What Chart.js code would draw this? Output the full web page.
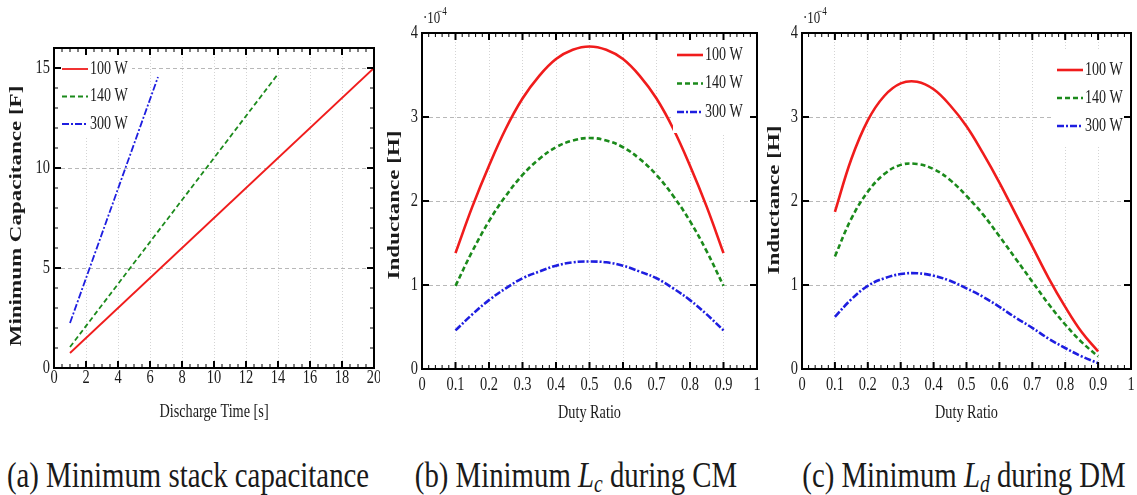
<!DOCTYPE html>
<html>
<head>
<meta charset="utf-8">
<script src="https://cdn.jsdelivr.net/npm/chart.js@4.4.1/dist/chart.umd.min.js"></script>
<style>
  body { margin: 0; width: 1137px; height: 495px; background: #fff; position: relative; overflow: hidden; }
  .panel { position: absolute; top: 0; height: 430px; }
  .caption {
    position: absolute; top: 457px; line-height: 36px; white-space: nowrap;
    font-family: 'Liberation Serif', 'DejaVu Serif', serif; font-size: 36px; color: #1a1a1a;
    transform: translateX(-50%) scaleX(0.8);
  }
  .caption sub { font-size: 0.68em; vertical-align: -0.22em; font-style: italic; }
</style>
</head>
<body>
<div class="panel" style="left:0;width:380px"><canvas id="capChart"></canvas></div>
<div class="panel" style="left:380px;width:385px"><canvas id="cmChart"></canvas></div>
<div class="panel" style="left:760px;width:377px"><canvas id="dmChart"></canvas></div>

<div class="caption" style="left:188px">(a) Minimum stack capacitance</div>
<div class="caption" style="left:576px">(b) Minimum <i>L</i><sub>c</sub> during CM</div>
<div class="caption" style="left:964px">(c) Minimum <i>L</i><sub>d</sub> during DM</div>

<script>
const seriesLabels = ['100 W', '140 W', '300 W'];

// (a) capacitance [F] against discharge time [s]
const time100 = [1, 20];
const cap100 = [0.75, 15.0];
const time140 = [1, 14];
const cap140 = [1.05, 14.7];
const time300 = [1, 6.5];
const cap300 = [2.25, 14.55];

const timeTicks = [0, 2, 4, 6, 8, 10, 12, 14, 16, 18, 20];
const timeTickLabels = ['0', '2', '4', '6', '8', '10', '12', '14', '16', '18', '20'];
const capTicks = [0, 5, 10, 15];
const capTickLabels = ['0', '5', '10', '15'];

// (b), (c) inductance in units of 1e-4 H against duty ratio
const dutyRatio = [0.1, 0.15, 0.2, 0.25, 0.3, 0.35, 0.4, 0.45, 0.5, 0.55, 0.6, 0.65, 0.7, 0.75, 0.8, 0.85, 0.9];

const lc100 = [1.38, 1.93, 2.42, 2.86, 3.22, 3.49, 3.69, 3.80, 3.84, 3.80, 3.69, 3.49, 3.22, 2.86, 2.42, 1.93, 1.38];
const lc140 = [0.99, 1.40, 1.76, 2.06, 2.31, 2.50, 2.64, 2.72, 2.75, 2.72, 2.64, 2.50, 2.31, 2.06, 1.76, 1.40, 0.99];
const lc300 = [0.46, 0.65, 0.82, 0.96, 1.08, 1.16, 1.23, 1.27, 1.28, 1.27, 1.23, 1.16, 1.08, 0.96, 0.82, 0.65, 0.46];

const ld100 = [1.87, 2.50, 2.96, 3.25, 3.40, 3.42, 3.33, 3.14, 2.89, 2.57, 2.22, 1.84, 1.46, 1.08, 0.74, 0.44, 0.21];
const ld140 = [1.34, 1.79, 2.11, 2.32, 2.43, 2.44, 2.38, 2.25, 2.06, 1.84, 1.58, 1.31, 1.04, 0.77, 0.53, 0.32, 0.15];
const ld300 = [0.62, 0.83, 0.99, 1.08, 1.13, 1.14, 1.11, 1.05, 0.96, 0.86, 0.74, 0.61, 0.49, 0.36, 0.25, 0.15, 0.07];

const dutyTicks = [0, 0.1, 0.2, 0.3, 0.4, 0.5, 0.6, 0.7, 0.8, 0.9, 1];
const dutyTickLabels = ['0', '0.1', '0.2', '0.3', '0.4', '0.5', '0.6', '0.7', '0.8', '0.9', '1'];
const inductTicks = [0, 1, 2, 3, 4];
const inductTickLabels = ['0', '1', '2', '3', '4'];

const SERIF = "'Liberation Serif', 'DejaVu Serif', serif";
const seriesStyle = [
  { color: '#f01c1c', dash: [] },
  { color: '#1b8a1b', dash: [5, 3] },
  { color: '#1e1ee0', dash: [7, 2, 2, 2] },
];

// text in the reference is a squeezed Computer Modern, so condense it horizontally
function squishText(ctx, text, x, y, font, { align = 'center', sx = 0.76, rotate = 0, color = '#1a1a1a' } = {}) {
  ctx.save();
  ctx.translate(x, y);
  ctx.scale(sx, 1);
  if (rotate) ctx.rotate(rotate);
  ctx.font = font;
  ctx.fillStyle = color;
  ctx.textAlign = align;
  ctx.textBaseline = 'middle';
  ctx.fillText(text, 0, 0);
  ctx.restore();
}

const figureDecor = {
  id: 'figureDecor',
  afterDatasetsDraw(chart, args, o) {
    const { ctx, chartArea: a, scales: { x, y } } = chart;

    // legend on a white box inside the plot
    const lg = o.legend;
    const bx = lg.fromRight ? a.right - lg.fromRight : a.left + lg.fromLeft;
    ctx.save();
    ctx.fillStyle = '#fff';
    ctx.fillRect(bx, a.top + lg.top, lg.width, lg.height);
    chart.data.datasets.forEach((ds, i) => {
      const ly = a.top + lg.firstRow + i * lg.rowGap;
      const lx = bx + lg.inset;
      ctx.strokeStyle = ds.borderColor;
      ctx.lineWidth = ds.borderWidth;
      ctx.setLineDash(ds.borderDash || []);
      ctx.beginPath();
      ctx.moveTo(lx, ly);
      ctx.lineTo(lx + lg.sample, ly);
      ctx.stroke();
      ctx.setLineDash([]);
      squishText(ctx, ds.label, lx + lg.sample + 2, ly, `18px ${SERIF}`, { align: 'left', sx: 0.78 });
    });
    ctx.restore();

    // frame with inward ticks on all four sides
    ctx.save();
    ctx.strokeStyle = '#000';
    const ticksAlong = (scale, values, len, width) => {
      ctx.lineWidth = width;
      ctx.beginPath();
      values.forEach(v => {
        const p = scale.getPixelForValue(v);
        if (scale.isHorizontal()) {
          ctx.moveTo(p, a.bottom); ctx.lineTo(p, a.bottom - len);
          ctx.moveTo(p, a.top); ctx.lineTo(p, a.top + len);
        } else {
          ctx.moveTo(a.left, p); ctx.lineTo(a.left + len, p);
          ctx.moveTo(a.right, p); ctx.lineTo(a.right - len, p);
        }
      });
      ctx.stroke();
    };
    const steps = (scale, step) => {
      const n = Math.round((scale.max - scale.min) / step);
      return Array.from({ length: n + 1 }, (_, i) => scale.min + i * step);
    };
    if (o.xMinor) ticksAlong(x, steps(x, o.xMinor), 4, 1);
    if (o.yMinor) ticksAlong(y, steps(y, o.yMinor), 4, 1);
    ticksAlong(x, x.ticks.map(t => t.value), 7, 2);
    ticksAlong(y, y.ticks.map(t => t.value), 7, 2);
    ctx.lineWidth = 2;
    ctx.strokeRect(a.left, a.top, a.right - a.left, a.bottom - a.top);
    ctx.restore();

    // tick labels and axis titles
    x.ticks.forEach((t, i) => squishText(ctx, o.xLabels[i], x.getPixelForValue(t.value), a.bottom + o.xLabelGap, `19px ${SERIF}`));
    y.ticks.forEach((t, i) => squishText(ctx, o.yLabels[i], a.left - 4, y.getPixelForValue(t.value), `19px ${SERIF}`, { align: 'right' }));
    squishText(ctx, o.xTitle, (a.left + a.right) / 2, a.bottom + 44, `19px ${SERIF}`, { sx: 0.75 });
    squishText(ctx, o.yTitle, o.yTitleX, o.yTitleY, `bold 23px ${SERIF}`, { rotate: -Math.PI / 2, sx: 0.75 });
    if (o.multiplier) {
      squishText(ctx, '\u00b710', a.left + 1, 19, `17px ${SERIF}`, { align: 'left' });
      squishText(ctx, '\u22124', a.left + 15, 12, `12px ${SERIF}`, { align: 'left' });
    }
  },
};

const toPoints = (xs, ys) => xs.map((v, i) => ({ x: v, y: ys[i] }));

function buildDatasets(series, width) {
  return series.map(([xs, ys], i) => ({
    label: seriesLabels[i],
    data: toPoints(xs, ys),
    borderColor: seriesStyle[i].color,
    borderDash: seriesStyle[i].dash,
    borderWidth: width,
    pointRadius: 0,
    tension: 0.4,
    fill: false,
  }));
}

function axis(min, max, tickValues, gridColor, dash, isX) {
  return {
    type: 'linear',
    min,
    max,
    afterBuildTicks: s => { s.ticks = tickValues.map(v => ({ value: v })); },
    afterFit: s => { if (isX) s.height = 0; else s.width = 0; },
    ticks: { display: false },
    grid: { color: gridColor, lineWidth: 1, drawTicks: false },
    border: { display: false, dash },
  };
}

function makePanel(id, { datasets, padding, xAxis, yAxis, decor }) {
  return new Chart(document.getElementById(id), {
    type: 'line',
    data: { datasets },
    options: {
      animation: false,
      responsive: true,
      maintainAspectRatio: false,
      layout: { padding },
      plugins: { legend: { display: false }, tooltip: { enabled: false }, figureDecor: decor },
      scales: { x: xAxis, y: yAxis },
    },
    plugins: [figureDecor],
  });
}

makePanel('capChart', {
  datasets: buildDatasets([[time100, cap100], [time140, cap140], [time300, cap300]], 1.8),
  padding: { left: 54, top: 48, right: 6, bottom: 62 },
  xAxis: axis(0, 20, timeTicks, '#d4d4d4', [1, 2], true),
  yAxis: axis(0, 16, capTicks, '#b8b8b8', [4, 3], false),
  decor: {
    legend: { fromLeft: 1, top: 1, width: 77, height: 87, inset: 7, sample: 26, firstRow: 21, rowGap: 27.5 },
    xMinor: 0.5, yMinor: 1,
    xLabels: timeTickLabels, yLabels: capTickLabels, xLabelGap: 10,
    xTitle: 'Discharge Time [s]', yTitle: 'Minimum Capacitance [F]', yTitleX: 17, yTitleY: 216,
  },
});

makePanel('cmChart', {
  datasets: buildDatasets([[dutyRatio, lc100], [dutyRatio, lc140], [dutyRatio, lc300]], 2.6),
  padding: { left: 42, top: 33, right: 8, bottom: 61 },
  xAxis: axis(0, 1, dutyTicks, '#d4d4d4', [1, 2], true),
  yAxis: axis(0, 4, inductTicks, '#b8b8b8', [4, 3], false),
  decor: {
    legend: { fromRight: 84, top: 2, width: 82, height: 98, inset: 4, sample: 26, firstRow: 22, rowGap: 28.5 },
    xMinor: 0.02,
    xLabels: dutyTickLabels, yLabels: inductTickLabels, xLabelGap: 16,
    xTitle: 'Duty Ratio', yTitle: 'Inductance [H]', yTitleX: 15, yTitleY: 205, multiplier: true,
  },
});

makePanel('dmChart', {
  datasets: buildDatasets([[dutyRatio, ld100], [dutyRatio, ld140], [dutyRatio, ld300]], 2.6),
  padding: { left: 42, top: 33, right: 6, bottom: 61 },
  xAxis: axis(0, 1, dutyTicks, '#d4d4d4', [1, 2], true),
  yAxis: axis(0, 4, inductTicks, '#b8b8b8', [4, 3], false),
  decor: {
    legend: { fromRight: 79, top: 17, width: 77, height: 95, inset: 5, sample: 26, firstRow: 37, rowGap: 28 },
    xMinor: 0.02,
    xLabels: dutyTickLabels, yLabels: inductTickLabels, xLabelGap: 16,
    xTitle: 'Duty Ratio', yTitle: 'Inductance [H]', yTitleX: 15, yTitleY: 200, multiplier: true,
  },
});
</script>
</body>
</html>
